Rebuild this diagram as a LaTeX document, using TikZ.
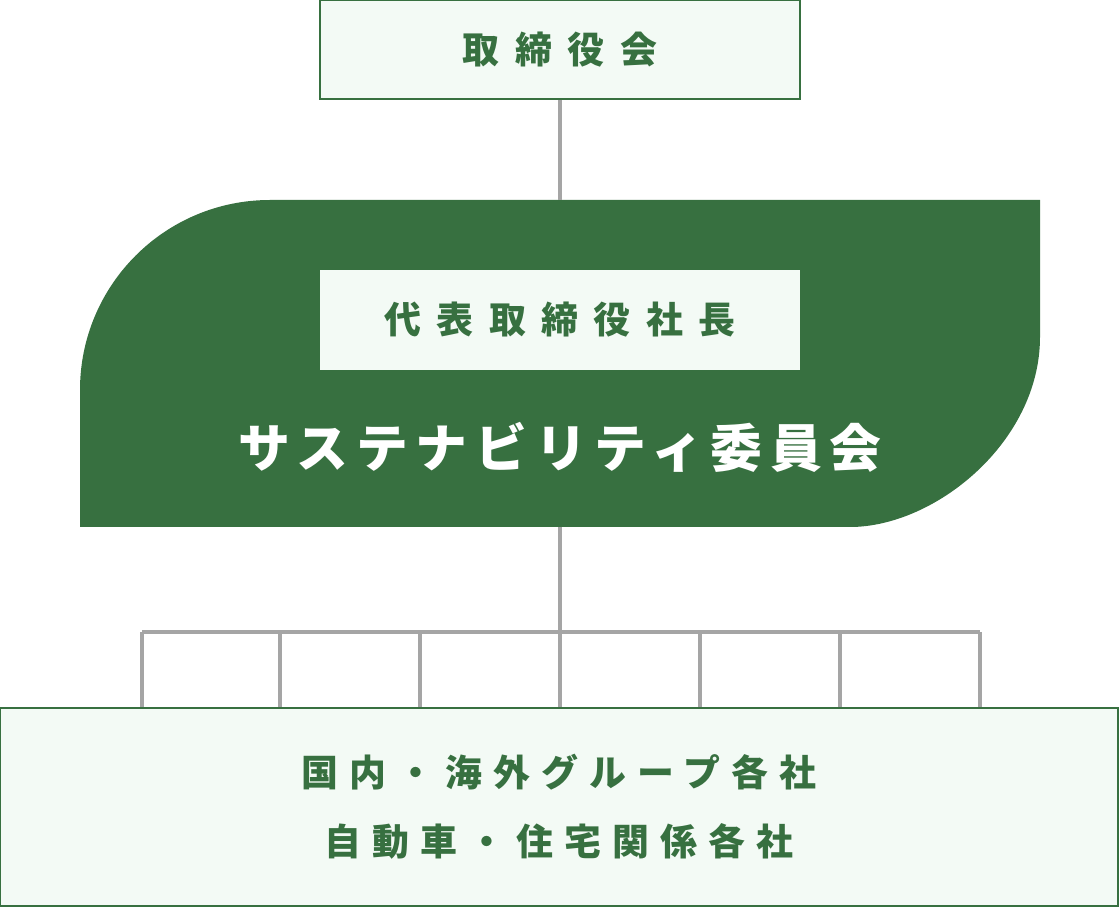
\documentclass[tikz,border=0pt]{standalone}
\usepackage{fontspec}
\newfontfamily\jpboard{Noto Sans CJK JP}[LetterSpace=42]
\newfontfamily\jpgroup{Noto Sans CJK JP}[LetterSpace=30]
\newfontfamily\jpcomm{Noto Sans CJK JP}[LetterSpace=15]
\definecolor{leafgreen}{RGB}{55,112,64}
\definecolor{paleleaf}{RGB}{243,250,245}
\definecolor{linkgray}{RGB}{165,165,165}

\begin{document}
\begin{tikzpicture}[x=0.02cm, y=-0.02cm]
    \tikzset{
        box/.style={rectangle, draw=leafgreen, line width=1.1pt, fill=paleleaf, inner sep=0pt},
        label_green/.style={text=leafgreen, font=\jpboard\bfseries\fontsize{21pt}{26pt}\selectfont},
        link/.style={draw=linkgray, line width=1.8pt}
    }
    \useasboundingbox (0,0) rectangle (1120,908);

    \node[box, label_green, minimum width=9.6cm, minimum height=1.98cm] (board) at (560,49.5) {取締役会};

    \coordinate (leaf_n) at (560,200);
    \coordinate (leaf_s) at (560,527);
    \fill[leafgreen] (80,527) -- (80,390) .. controls (80,285) and (165,200) .. (270,200)
        -- (1040,200) -- (1040,337) .. controls (1040,442) and (935,527) .. (850,527) -- cycle;
    \node[box, draw=none, label_green, minimum width=9.6cm, minimum height=2cm] (ceo) at (560,320) {代表取締役社長};
    \node[text=white, font=\jpcomm\bfseries\fontsize{29.5pt}{34pt}\selectfont] (committee) at (560,447) {サステナビリティ委員会};
    \draw[link] (board) -- (leaf_n);

    \node[box, minimum width=22.36cm, minimum height=3.96cm, align=center, text=leafgreen,
        font=\jpgroup\bfseries\fontsize{21pt}{39.1pt}\selectfont] (groups) at (559,807)
        {国内・海外グループ各社\\自動車・住宅関係各社};

    \coordinate (bus_c) at (560,632);
    \coordinate (bus_l) at (142,632);
    \coordinate (bus_r) at (980,632);
    \draw[link] (leaf_s) -- (bus_c);
    \draw[link] (bus_l) -- (bus_r);
    \foreach \x in {142,280,420,560,700,840,980}
        \draw[link] (\x,632) -- (groups.north -| \x,0);

\end{tikzpicture}
\end{document}
